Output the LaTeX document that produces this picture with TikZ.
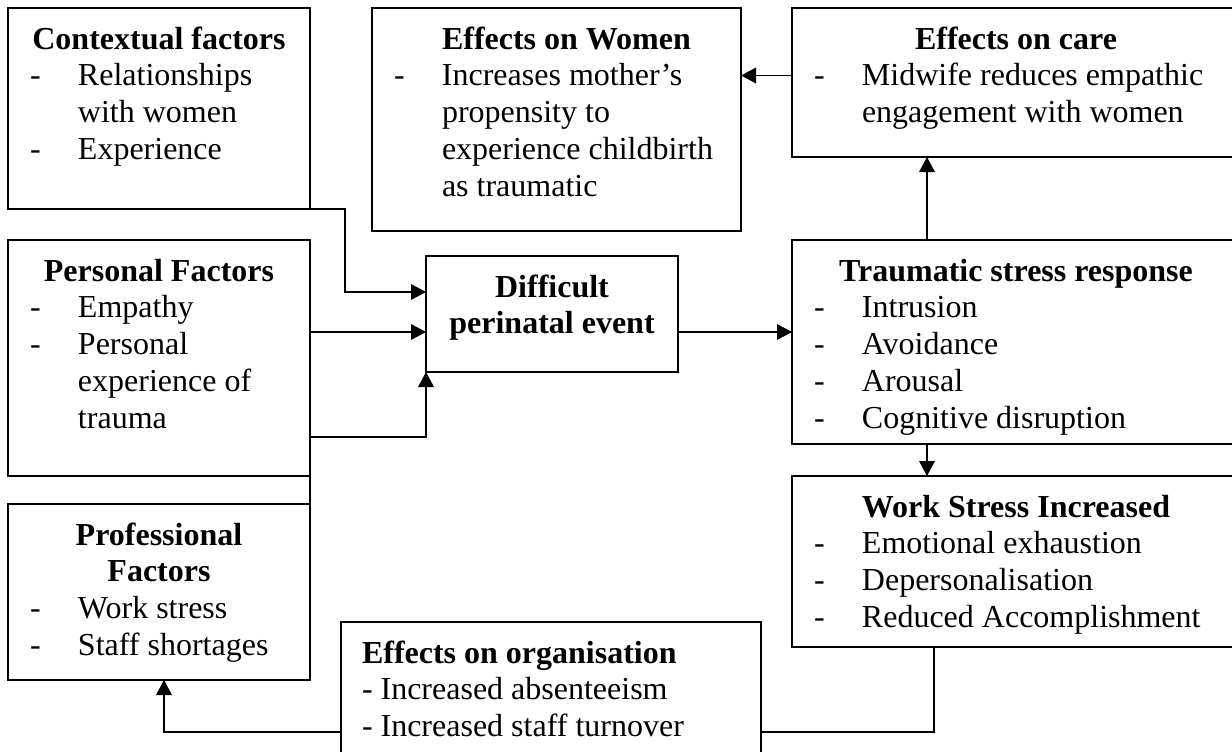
\documentclass[tikz,border=0pt]{standalone}
\usepackage{fontspec}
\setmainfont{Liberation Serif}
\usetikzlibrary{arrows.meta,calc}

\newcommand{\boxhead}[1]{{\centering\bfseries\rule{0pt}{20.5pt}#1\par}}
\newcommand{\dashline}[1]{\hangindent=35pt\hangafter=1\makebox[35pt][l]{\hspace{11pt}-}#1\par}
\newcommand{\boxbody}[3]{\parbox[c][#2pt][t]{#1pt}{\raggedright #3}}

\begin{document}
\begin{tikzpicture}[x=0.5pt, y=-0.5pt,
	box/.style={draw, line width=1.1pt, inner sep=0pt, outer sep=0pt, anchor=north west, font=\fontsize{16}{18.4}\selectfont},
	arr/.style={line width=0.8pt, -{Triangle[length=7.5pt,width=7.8pt]}},
	link/.style={line width=0.8pt}]
		\clip (0,0) rectangle (1232,751);
		
		\node[box] (ctx) at (8,8) {\boxbody{151}{100.5}{\boxhead{Contextual factors}\dashline{Relationships\newline with women}\dashline{Experience}}};
		\node[box] (pers) at (8,240) {\boxbody{151}{118}{\boxhead{Personal Factors}\dashline{Empathy}\dashline{Personal\newline experience of\newline trauma}}};
		\node[box] (prof) at (8,504) {\boxbody{151}{88}{\boxhead{Professional\\Factors}\dashline{Work stress}\dashline{Staff shortages}}};
		\node[box] (diff) at (426,256) {\boxbody{126}{58}{\boxhead{Difficult\\perinatal event}}};
		\node[box] (women) at (372,8) {\boxbody{184.5}{111.5}{{\leavevmode\bfseries\hspace*{35pt}\rule{0pt}{20.5pt}Effects on Women\par}\dashline{Increases mother's\newline propensity to\newline experience childbirth\newline as traumatic}}};
		\node[box] (care) at (792,8) {\boxbody{224}{74.5}{\boxhead{Effects on care}\dashline{Midwife reduces empathic\newline engagement with women}}};
		\node[box] (trauma) at (792,240) {\boxbody{224}{102}{\boxhead{Traumatic stress response}\dashline{Intrusion}\dashline{Avoidance}\dashline{Arousal}\dashline{Cognitive disruption}}};
		\node[box] (work) at (792,476) {\boxbody{224}{85.5}{\boxhead{Work Stress Increased}\dashline{Emotional exhaustion}\dashline{Depersonalisation}\dashline{Reduced Accomplishment}}};
		\node[box] (org) at (341,622) {\boxbody{210}{74}{\leftskip=10.5pt{\bfseries\rule{0pt}{20.5pt}Effects on organisation\par}- Increased absenteeism\par- Increased staff turnover\par}};
		
		\coordinate (din) at ($(diff.west)+(0,18)$);
		\coordinate (tx) at ($(trauma.north)+(-89,0)$);
		\coordinate (wx) at ($(work.south)+(-82,0)$);
		\coordinate (cw) at ($(care.west)+(0,-7)$);
		\coordinate (oe) at ($(org.east)+(0,36)$);
		\coordinate (ow) at ($(org.west)+(0,36)$);
		
		\draw[arr] (ctx.south east) -- ++(35,0) |- ($(diff.west)+(0,-22)$);
		\draw[arr] (pers.east |- din) -- (din);
		\draw[arr] (prof.north east) -- ++(0,-67) -| (diff.south west);
		\draw[arr] (diff.east |- din) -- (trauma.west |- din);
		\draw[arr] (tx) -- (tx |- care.south);
		\draw[arr] (trauma.south -| tx) -- (work.north -| tx);
		\draw[arr] (cw) -- (cw -| women.east);
		\draw[link] (wx) |- (oe);
		\draw[arr] (ow) -| ($(prof.south)+(5,0)$);
		
	\end{tikzpicture}
\end{document}
